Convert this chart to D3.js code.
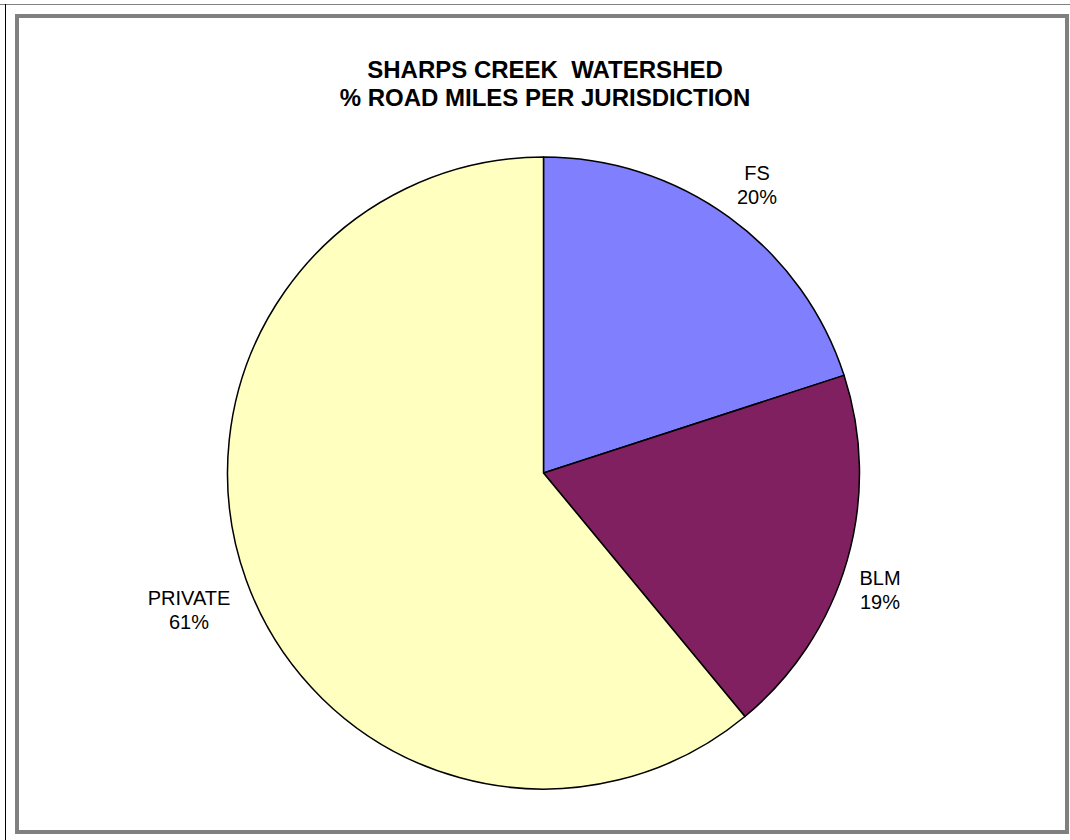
<!DOCTYPE html>
<html>
<head>
<meta charset="utf-8">
<script src="https://cdn.jsdelivr.net/npm/d3@7/dist/d3.min.js"></script>
<style>
  html, body { margin: 0; padding: 0; background: #fff; }
  svg { display: block; }
  text { font-family: Arial, "Liberation Sans", sans-serif; fill: #000; white-space: pre; }
</style>
</head>
<body>
<svg id="chart" width="1070" height="840"></svg>
<script>
// Road mileage share by jurisdiction, Sharps Creek watershed
const categories = ["FS", "BLM", "PRIVATE"];
const percents = [20, 19, 61];
const sliceColors = ["#8080FF", "#802060", "#FFFFC0"];
const titleLines = ["SHARPS CREEK  WATERSHED", "% ROAD MILES PER JURISDICTION"];

const width = 1070, height = 840;
const svg = d3.select("#chart");

// page outline
svg.append("line").attr("x1", 0).attr("x2", width).attr("y1", 4.5).attr("y2", 4.5)
  .attr("stroke", "#808080").attr("stroke-width", 1);
svg.append("line").attr("x1", 5.5).attr("x2", 5.5).attr("y1", 4).attr("y2", height)
  .attr("stroke", "#000").attr("stroke-width", 1);

// chart area border
svg.append("rect").attr("x", 17).attr("y", 16).attr("width", 1050).attr("height", 816)
  .attr("fill", "#fff").attr("stroke", "#808080").attr("stroke-width", 4);

// title
const title = svg.append("text").attr("text-anchor", "middle")
  .attr("font-weight", "bold").attr("font-size", 24)
  .attr("xml:space", "preserve");
title.selectAll("tspan").data(titleLines).join("tspan")
  .attr("x", 545).attr("y", (d, i) => 78 + i * 28).text(d => d);

// pie
const cx = 543.5, cy = 473, r = 316;
const data = categories.map((c, i) => ({ name: c, value: percents[i], color: sliceColors[i] }));
const pie = d3.pie().value(d => d.value).sort(null);
const arc = d3.arc().innerRadius(0).outerRadius(r);
const arcs = pie(data);

const g = svg.append("g").attr("transform", `translate(${cx},${cy})`);
g.selectAll("path").data(arcs).join("path")
  .attr("d", arc)
  .attr("fill", d => d.data.color)
  .attr("stroke", "#000").attr("stroke-width", 1.5)
  .attr("stroke-linejoin", "round");

// category labels outside the rim
const labelPos = { "FS": [757, 180], "BLM": [880, 585], "PRIVATE": [189, 605] };
const labels = svg.append("g").attr("font-size", 20).attr("text-anchor", "middle");
arcs.forEach(a => {
  const [x, y] = labelPos[a.data.name];
  const t = labels.append("text");
  t.append("tspan").attr("x", x).attr("y", y).text(a.data.name);
  t.append("tspan").attr("x", x).attr("y", y + 24).text(a.data.value + "%");
});
</script>
</body>
</html>
